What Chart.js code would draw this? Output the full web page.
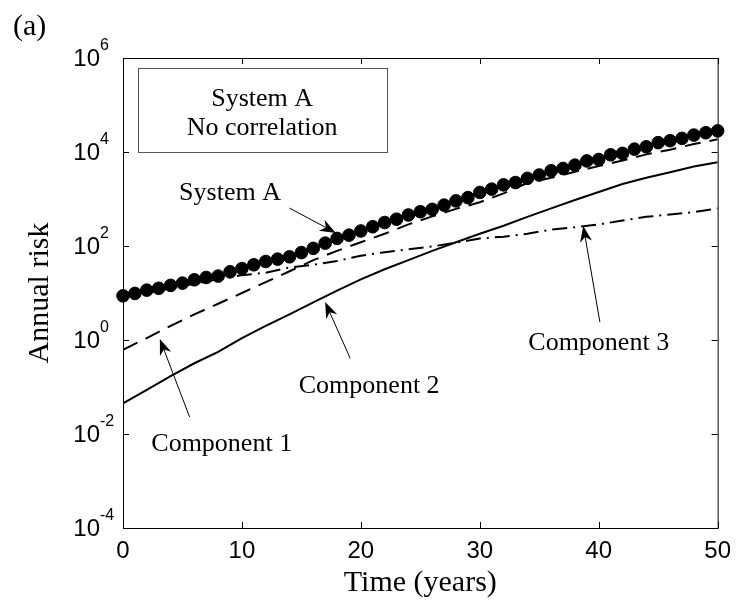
<!DOCTYPE html>
<html>
<head>
<meta charset="utf-8">
<script src="https://cdn.jsdelivr.net/npm/chart.js@4.4.1/dist/chart.umd.min.js"></script>
<style>
  html, body { margin: 0; padding: 0; background: #fff; }
  #wrap { width: 740px; height: 605px; }
</style>
</head>
<body>
<div id="wrap"><canvas id="riskChart" width="740" height="605"></canvas></div>
<script>
// values (annual risk, log axis)
const sysYears = [0,1,2,3,4,5,6,7,8,9,10,11,12,13,14,15,16,17,18,19,20,21,22,23,24,25,
                  26,27,28,29,30,31,32,33,34,35,36,37,38,39,40,41,42,43,44,45,46,47,48,49,50];
const systemA = [8.7, 9.8, 11.5, 12.6, 14.5, 16.2, 19.1, 21.4, 22.9, 28.2,
                 33.1, 39.8, 46.8, 52.5, 58.9, 72.4, 89.1, 115, 145, 170,
                 209, 257, 316, 372, 457, 537, 603, 741, 912, 1070,
                 1380, 1620, 2000, 2240, 2750, 3240, 3980, 4470, 5250, 6460,
                 6920, 8710, 9330, 11500, 12900, 15800, 17400, 19500, 22900, 25700, 28200];

const compYears = [0,2,4,6,8,10,12,14,16,18,20,22,24,26,28,30,32,34,36,38,40,42,44,46,48,50];
const component1 = [0.62, 1.1, 2.0, 3.5, 5.9, 10, 17, 29, 50, 79, 120, 182, 288,
                    427, 617, 851, 1320, 2190, 2820, 3800, 5010, 6610, 8910, 11200, 14800, 18600];
const component2 = [0.045, 0.087, 0.17, 0.32, 0.56, 1.1, 2.0, 3.5, 6.3, 11.2, 19.5, 32, 50,
                    79, 120, 182, 269, 417, 631, 955, 1410, 2090, 2820, 3720, 4900, 6030];
const component3 = [7.9, 10, 12.6, 15.8, 19.5, 24, 27, 35, 40, 48, 62, 74, 85,
                    98, 117, 145, 158, 182, 224, 251, 288, 347, 417, 468, 525, 631];

const xTicks = [0, 10, 20, 30, 40, 50];
const yTickExps = [-4, -2, 0, 2, 4, 6];

// text labels with arrows, in data coordinates [year, risk]
const notes = [
  { text: 'System A',    at: [9, 950],     from: [14, 640],   to: [17.9, 190] },
  { text: 'Component 1', at: [8.3, 0.0044], from: [5.6, 0.023], to: [3.1, 1.05] },
  { text: 'Component 2', at: [20.7, 0.075], from: [19.1, 0.41], to: [17.0, 6.4] },
  { text: 'Component 3', at: [40.0, 0.61],  from: [40.1, 2.4],  to: [38.7, 268] }
];
const boxLines = ['System A', 'No correlation'];
const boxCorners = [[1.26, 6.1e5], [22.2, 1e4]];
const boxTextAt = [[11.7, 9.5e4], [11.7, 2.3e4]];

const serif = '"Liberation Serif", "Times New Roman", serif';
const sans = '"Liberation Sans", Arial, sans-serif';

function pairs(xs, ys) {
  return xs.map((x, i) => ({ x: x, y: ys[i] }));
}

function arrow(ctx, x1, y1, x2, y2) {
  const ang = Math.atan2(y2 - y1, x2 - x1);
  const len = 16, half = 6;
  ctx.beginPath();
  ctx.moveTo(x1, y1);
  ctx.lineTo(x2 - Math.cos(ang) * 8, y2 - Math.sin(ang) * 8);
  ctx.lineWidth = 1;
  ctx.stroke();
  const bx = x2 - Math.cos(ang) * len, by = y2 - Math.sin(ang) * len;
  const nx = -Math.sin(ang) * half, ny = Math.cos(ang) * half;
  const mx = x2 - Math.cos(ang) * len * 0.7, my = y2 - Math.sin(ang) * len * 0.7;
  ctx.beginPath();
  ctx.moveTo(x2, y2);
  ctx.lineTo(bx + nx, by + ny);
  ctx.lineTo(mx, my);
  ctx.lineTo(bx - nx, by - ny);
  ctx.closePath();
  ctx.fill();
}

const boxPlugin = {
  id: 'matlabBox',
  beforeDatasetsDraw(chart) {
    const { ctx, chartArea: a, scales: { x, y } } = chart;
    ctx.save();
    ctx.strokeStyle = '#000';
    ctx.lineWidth = 1;
    ctx.strokeRect(a.left + 0.5, a.top + 0.5, a.right - a.left, a.bottom - a.top);
    ctx.beginPath();
    xTicks.forEach(t => {
      const px = Math.round(x.getPixelForValue(t)) + 0.5;
      ctx.moveTo(px, a.bottom); ctx.lineTo(px, a.bottom - 6);
      ctx.moveTo(px, a.top); ctx.lineTo(px, a.top + 6);
    });
    yTickExps.forEach(e => {
      const py = Math.round(y.getPixelForValue(Math.pow(10, e))) + 0.5;
      ctx.moveTo(a.left, py); ctx.lineTo(a.left + 6, py);
      ctx.moveTo(a.right, py); ctx.lineTo(a.right - 6, py);
    });
    ctx.stroke();

    // y tick labels 10^n
    ctx.fillStyle = '#000';
    ctx.textBaseline = 'middle';
    yTickExps.forEach(e => {
      const py = y.getPixelForValue(Math.pow(10, e));
      ctx.font = '24px ' + sans;
      ctx.textAlign = 'right';
      ctx.fillText('10', a.left - 23, py + 1);
      ctx.font = '16px ' + sans;
      ctx.textAlign = 'left';
      ctx.fillText(String(e), a.left - 23, py - 12);
    });

    // info box
    const [c1, c2] = boxCorners;
    const bx1 = x.getPixelForValue(c1[0]), by1 = y.getPixelForValue(c1[1]);
    const bx2 = x.getPixelForValue(c2[0]), by2 = y.getPixelForValue(c2[1]);
    ctx.strokeStyle = '#555';
    ctx.strokeRect(Math.round(bx1) + 0.5, Math.round(by1) + 0.5, Math.round(bx2 - bx1), Math.round(by2 - by1));
    ctx.font = '26px ' + serif;
    ctx.textAlign = 'center';
    ctx.textBaseline = 'alphabetic';
    boxLines.forEach((s, i) => {
      ctx.fillText(s, x.getPixelForValue(boxTextAt[i][0]), y.getPixelForValue(boxTextAt[i][1]));
    });
    ctx.restore();
  },
  afterDraw(chart) {
    const { ctx, scales: { x, y } } = chart;
    ctx.save();
    ctx.fillStyle = '#000';
    ctx.strokeStyle = '#000';
    ctx.font = '26px ' + serif;
    ctx.textAlign = 'center';
    ctx.textBaseline = 'alphabetic';
    notes.forEach(n => {
      ctx.fillText(n.text, x.getPixelForValue(n.at[0]), y.getPixelForValue(n.at[1]));
      arrow(ctx, x.getPixelForValue(n.from[0]), y.getPixelForValue(n.from[1]),
                 x.getPixelForValue(n.to[0]), y.getPixelForValue(n.to[1]));
    });
    ctx.font = '30px ' + serif;
    ctx.textAlign = 'left';
    ctx.fillText('(a)', 13, 35);
    ctx.restore();
  }
};

new Chart(document.getElementById('riskChart').getContext('2d'), {
  type: 'line',
  data: {
    datasets: [
      {
        label: 'System A',
        data: pairs(sysYears, systemA),
        borderColor: '#000',
        backgroundColor: '#000',
        borderWidth: 2,
        pointRadius: 6.3,
        pointBorderWidth: 1,
        pointBorderColor: '#000',
        clip: false
      },
      {
        label: 'Component 1',
        data: pairs(compYears, component1),
        borderColor: '#000',
        borderWidth: 2,
        borderDash: [16, 9],
        pointRadius: 0
      },
      {
        label: 'Component 2',
        data: pairs(compYears, component2),
        borderColor: '#000',
        borderWidth: 2,
        pointRadius: 0
      },
      {
        label: 'Component 3',
        data: pairs(compYears, component3),
        borderColor: '#000',
        borderWidth: 2,
        borderDash: [15, 6, 2, 6],
        pointRadius: 0
      }
    ]
  },
  options: {
    responsive: false,
    animation: false,
    layout: { padding: { top: 58, right: 20, left: 0, bottom: 0 } },
    plugins: { legend: { display: false }, tooltip: { enabled: false } },
    elements: { line: { tension: 0 } },
    scales: {
      x: {
        type: 'linear',
        min: 0,
        max: 50,
        afterBuildTicks: s => { s.ticks = xTicks.map(v => ({ value: v })); },
        afterFit: s => { s.height = 77; },
        grid: { display: false, drawTicks: false },
        border: { display: false },
        ticks: { color: '#000', padding: 9, maxRotation: 0, font: { family: sans, size: 24 } },
        title: { display: true, text: 'Time (years)', color: '#000',
                 padding: { top: 0, bottom: 4 }, font: { family: serif, size: 30 } }
      },
      y: {
        type: 'logarithmic',
        min: 1e-4,
        max: 1e6,
        afterBuildTicks: s => { s.ticks = yTickExps.map(e => ({ value: Math.pow(10, e) })); },
        afterFit: s => { s.width = 123; },
        grid: { display: false, drawTicks: false },
        border: { display: false },
        ticks: { display: false },
        title: { display: true, text: 'Annual risk', color: '#000',
                 padding: { top: 22, bottom: 0 }, font: { family: serif, size: 30 } }
      }
    }
  },
  plugins: [boxPlugin]
});
</script>
</body>
</html>
